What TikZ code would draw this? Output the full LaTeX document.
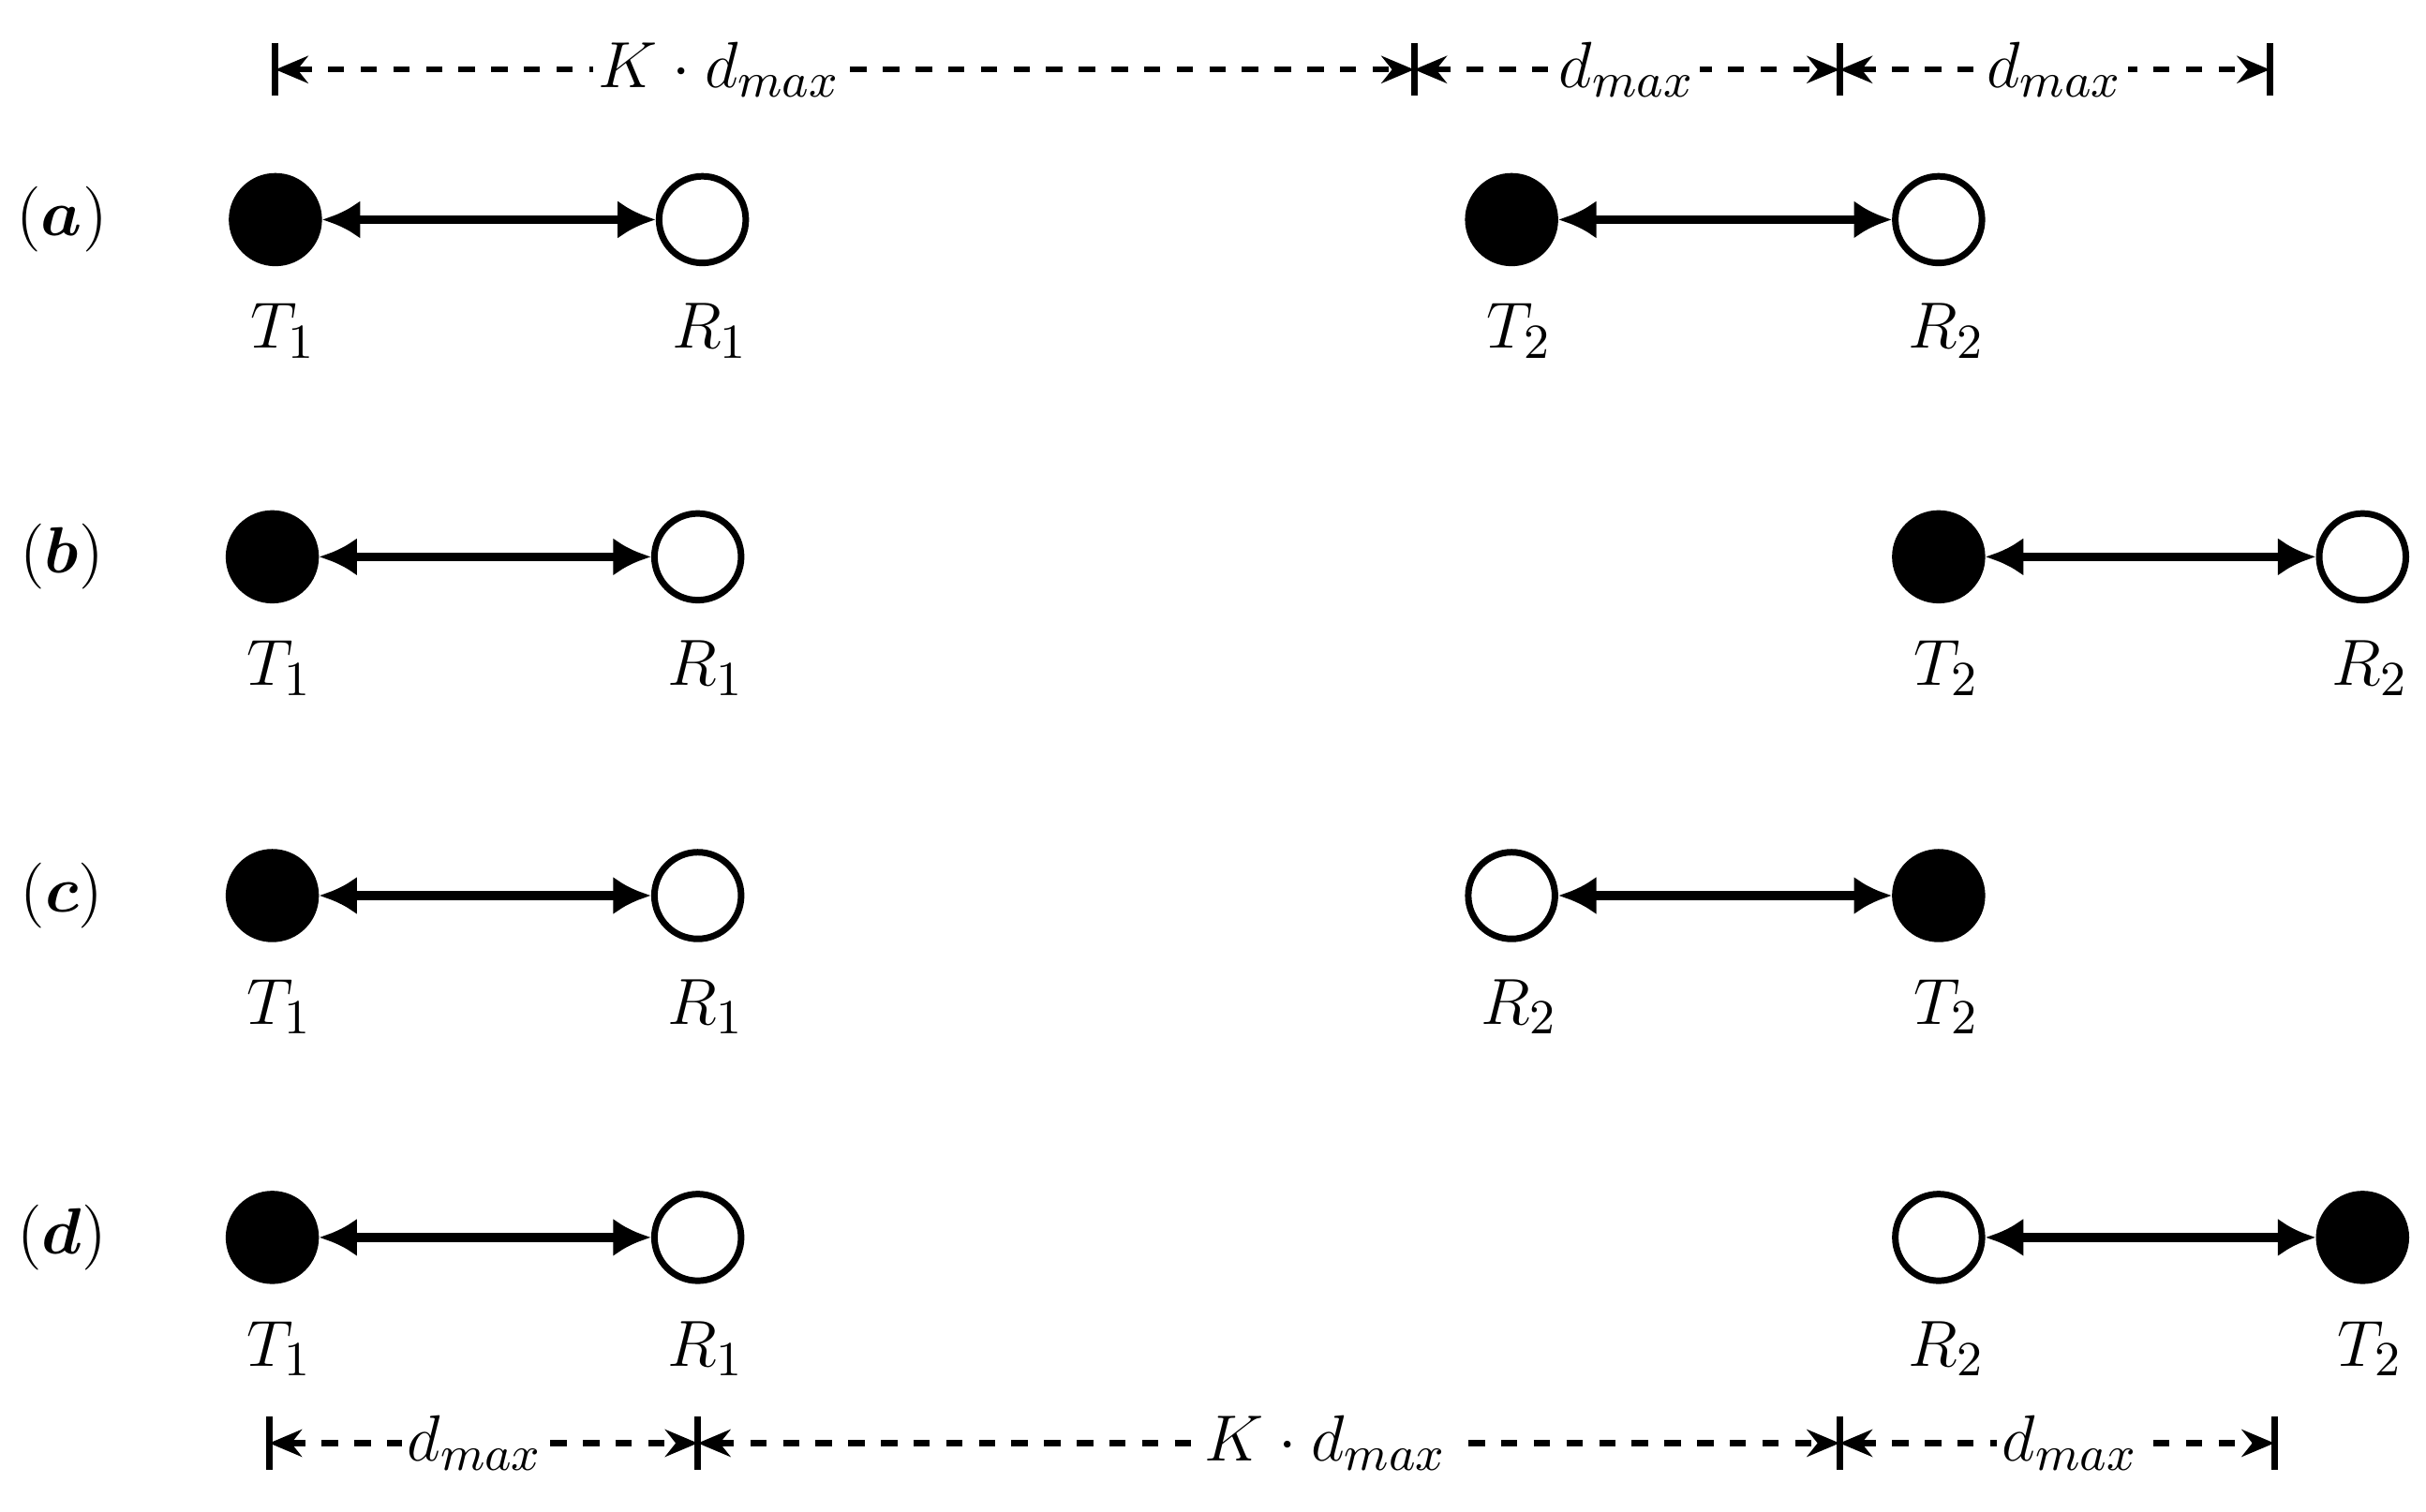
\documentclass[tikz,border=0pt]{standalone}
\usepackage{bm}
\usetikzlibrary{arrows.meta}
\begin{document}
\begin{tikzpicture}[x=0.01cm,y=-0.01cm,
  tx/.style={circle,draw,line width=1.2pt,fill=black,minimum size=0.56cm,inner sep=0},
  rx/.style={circle,draw,line width=1.2pt,fill=white,minimum size=0.56cm,inner sep=0},
  lk/.style={line width=1.6pt,{Latex[length=7pt,width=7pt]}-{Latex[length=7pt,width=7pt]}},
  dim/.style={dashed,line width=1.1pt,{Stealth[length=6pt,width=5pt]}-{Stealth[length=6pt,width=5pt]}},
  tick/.style={line width=1.2pt},
  lab/.style={font=\fontsize{13}{15}\selectfont},
  dl/.style={fill=white,inner sep=1pt,font=\fontsize{13}{15}\selectfont}]
\useasboundingbox (0,0) rectangle (1568,977);
% rows
\foreach \y/\r in {142/a,360/b,579/c,800/d}{\node[lab] (l\r) at (40,\y) {$\mathbf{(}\bm{\r}\mathbf{)}$};}
% row a
\node[tx] (aT1) at (178,142) {}; \node[rx] (aR1) at (454,142) {};
\node[tx] (aT2) at (977,142) {}; \node[rx] (aR2) at (1253,142) {};
% row b
\node[tx] (bT1) at (176,360) {}; \node[rx] (bR1) at (451,360) {};
\node[tx] (bT2) at (1253,360) {}; \node[rx] (bR2) at (1527,360) {};
% row c
\node[tx] (cT1) at (176,579) {}; \node[rx] (cR1) at (451,579) {};
\node[rx] (cR2) at (977,579) {}; \node[tx] (cT2) at (1253,579) {};
% row d
\node[tx] (dT1) at (176,800) {}; \node[rx] (dR1) at (451,800) {};
\node[rx] (dR2) at (1253,800) {}; \node[tx] (dT2) at (1527,800) {};
\foreach \a/\b in {aT1/aR1,aT2/aR2,bT1/bR1,bT2/bR2,cT1/cR1,cR2/cT2,dT1/dR1,dR2/dT2}{\draw[lk] (\a) -- (\b);}
% labels
\foreach \n/\t in {aT1/T_1,aR1/R_1,aT2/T_2,aR2/R_2,bT1/T_1,bR1/R_1,bT2/T_2,bR2/R_2,cT1/T_1,cR1/R_1,cR2/R_2,cT2/T_2,dT1/T_1,dR1/R_1,dR2/R_2,dT2/T_2}{\node[lab] (L\n) at ([xshift=0.05cm,yshift=-0.72cm]\n.center) {$\t$};}
% top dimensions
\coordinate (t0) at (178,45); \coordinate (t1) at (914,45); \coordinate (t2) at (1189,45); \coordinate (t3) at (1467,45);
\foreach \c in {t0,t1,t2,t3}{\draw[tick] ([yshift=0.17cm]\c) -- ([yshift=-0.17cm]\c);}
\draw[dim] (t0) -- node[dl,pos=0.39]{$K\cdot d_{max}$} (t1);
\draw[dim] (t1) -- node[dl]{$d_{max}$} (t2);
\draw[dim] (t2) -- node[dl]{$d_{max}$} (t3);
% bottom dimensions
\coordinate (b0) at (174,933); \coordinate (b1) at (451,933); \coordinate (b2) at (1189,933); \coordinate (b3) at (1470,933);
\foreach \c in {b0,b1,b2,b3}{\draw[tick] ([yshift=0.17cm]\c) -- ([yshift=-0.17cm]\c);}
\draw[dim] (b0) -- node[dl,pos=0.48]{$d_{max}$} (b1);
\draw[dim] (b1) -- node[dl,pos=0.55]{$K\cdot d_{max}$} (b2);
\draw[dim] (b2) -- node[dl,pos=0.53]{$d_{max}$} (b3);
\end{tikzpicture}
\end{document}
